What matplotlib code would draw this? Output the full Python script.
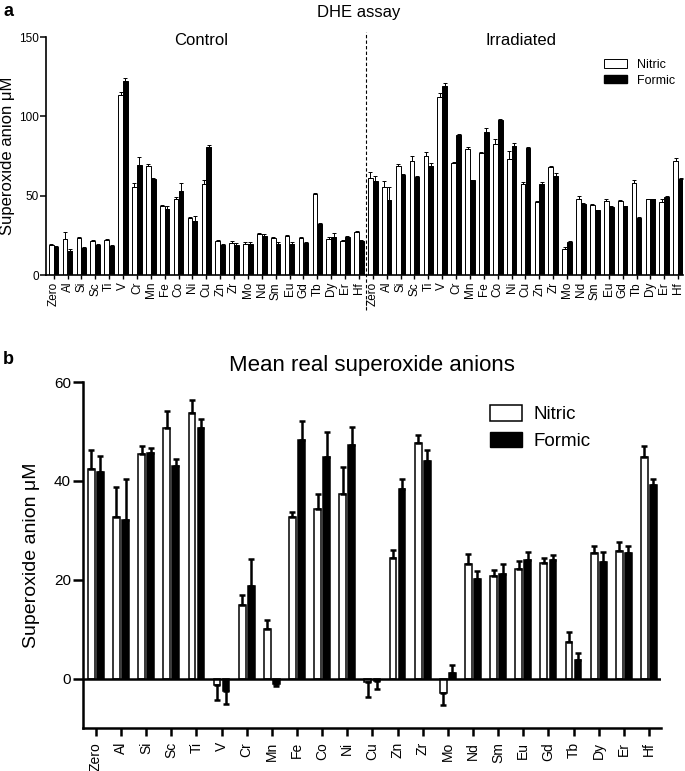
import numpy as np
import matplotlib
matplotlib.use("Agg")
import matplotlib.pyplot as plt
from matplotlib.patches import Patch

plt.rcParams["font.family"] = ["Liberation Sans", "DejaVu Sans"]

elements = ["Zero", "Al", "Si", "Sc", "Ti", "V", "Cr", "Mn", "Fe", "Co", "Ni", "Cu",
            "Zn", "Zr", "Mo", "Nd", "Sm", "Eu", "Gd", "Tb", "Dy", "Er", "Hf"]

# panel a - DHE assay (uM), mean and SEM
ctrl_nitric = [18.9, 22.4, 23.3, 21.4, 22.0, 113.7, 55.6, 69.0, 43.8, 48.2, 36.1, 57.5,
               21.6, 20.3, 19.5, 25.6, 23.3, 24.5, 23.1, 51.0, 22.4, 21.2, 27.1]
ctrl_nitric_err = [0.6, 4.5, 0.8, 0.8, 0.8, 1.5, 2.1, 0.8, 0.4, 1.1, 0.6, 2.3,
                   0.6, 1.1, 1.1, 0.8, 0.6, 0.6, 0.6, 0.6, 1.3, 0.6, 0.8]
ctrl_formic = [17.8, 15.3, 17.0, 18.9, 18.3, 122.3, 69.4, 60.8, 41.7, 52.7, 34.0, 80.8,
               18.9, 19.1, 19.5, 24.5, 19.3, 19.7, 19.9, 32.1, 23.9, 23.7, 21.6]
ctrl_formic_err = [0.4, 1.2, 0.4, 0.8, 0.4, 1.7, 5.1, 0.4, 1.5, 5.0, 3.3, 1.4,
                   0.4, 0.8, 1.1, 1.3, 1.7, 0.8, 0.6, 0.8, 2.3, 1.1, 0.6]
irr_nitric = [61.3, 55.2, 68.4, 71.7, 75.3, 112.4, 70.5, 79.3, 76.8, 82.7, 73.4, 57.1,
              45.9, 68.0, 16.4, 48.2, 44.0, 46.6, 46.6, 57.9, 47.6, 46.1, 71.7]
irr_nitric_err = [3.8, 4.2, 1.3, 3.2, 2.3, 2.5, 0.6, 1.3, 0.6, 2.7, 4.8, 1.7,
                  1.0, 0.6, 1.3, 1.7, 0.6, 1.0, 0.6, 1.9, 0.6, 1.5, 2.1]
irr_formic = [59.4, 47.4, 62.9, 61.9, 68.6, 119.4, 88.1, 59.6, 90.0, 97.8, 81.4, 80.3,
              57.5, 62.7, 20.8, 44.9, 40.7, 42.8, 43.2, 35.7, 47.6, 49.3, 60.4]
irr_formic_err = [2.9, 8.2, 0.6, 0.4, 1.7, 1.7, 0.8, 0.4, 2.7, 0.6, 1.5, 0.6,
                  1.3, 1.7, 0.8, 0.4, 0.4, 0.8, 0.4, 0.6, 0.4, 0.6, 0.8]

# panel b - mean real superoxide anions (uM)
real_nitric = [42.4, 32.7, 45.4, 50.7, 53.7, -1.2, 14.8, 10.0, 32.7, 34.3, 37.4, -0.7,
               24.4, 47.7, -2.9, 23.1, 20.7, 22.2, 23.4, 7.4, 25.4, 25.8, 44.8]
real_nitric_err = [3.9, 6.1, 1.6, 3.5, 2.7, 3.2, 2.1, 1.9, 0.9, 3.1, 5.4, 3.0,
                   1.7, 1.6, 2.4, 2.1, 1.2, 1.5, 0.9, 2.0, 1.5, 1.8, 2.3]
real_formic = [41.7, 32.1, 45.7, 43.0, 50.7, -2.6, 18.7, -1.1, 48.3, 44.8, 47.3, -0.5,
               38.4, 44.1, 1.1, 20.2, 21.2, 23.9, 23.9, 3.8, 23.5, 25.4, 39.1]
real_formic_err = [3.3, 8.3, 1.0, 1.4, 1.9, 2.5, 5.4, 0.5, 3.9, 5.0, 3.6, 1.7,
                   1.9, 2.2, 1.7, 1.5, 1.9, 1.7, 1.0, 1.4, 2.1, 1.5, 1.2]


def one_sided(vals, errs):
    # error bar points away from zero, like the original
    vals = np.asarray(vals)
    errs = np.asarray(errs)
    lower = np.where(vals < 0, errs, 0)
    upper = np.where(vals < 0, 0, errs)
    return [lower, upper]


fig = plt.figure(figsize=(6.85, 7.71), dpi=100)

# ---------- panel a ----------
W, H = 685.0, 771.0
ax1 = fig.add_axes([46 / W, 1 - 275 / H, (683 - 46) / W, (275 - 37) / H])

nitric_a = ctrl_nitric + irr_nitric
nitric_a_err = ctrl_nitric_err + irr_nitric_err
formic_a = ctrl_formic + irr_formic
formic_a_err = ctrl_formic_err + irr_formic_err
xa = np.arange(len(nitric_a))
bw = 0.34
ax1.bar(xa - 0.175, nitric_a, bw, color="white", edgecolor="black", linewidth=0.7, zorder=2)
ax1.bar(xa + 0.175, formic_a, bw, color="black", edgecolor="black", linewidth=0.7, zorder=2)
ekw = dict(fmt="none", ecolor="black", elinewidth=0.7, capsize=1.2, capthick=0.7, zorder=3)
ax1.errorbar(xa - 0.175, nitric_a, yerr=one_sided(nitric_a, nitric_a_err), **ekw)
ax1.errorbar(xa + 0.175, formic_a, yerr=one_sided(formic_a, formic_a_err), **ekw)

ax1.set_xlim(-0.55, 45.35)
ax1.set_ylim(0, 150)
ax1.set_yticks([0, 50, 100, 150])
ax1.set_xticks(xa)
ax1.set_xticklabels(elements + elements, rotation=90, fontsize=8.5)
ax1.tick_params(axis="y", labelsize=8.5, length=4, width=1.1, pad=1)
ax1.tick_params(axis="x", length=3, width=1.0, pad=2)
for s in ["top", "right"]:
    ax1.spines[s].set_visible(False)
for s in ["left", "bottom"]:
    ax1.spines[s].set_linewidth(1.2)
ax1.set_ylabel("Superoxide anion \u03bcM", fontsize=12, labelpad=3)
ax1.axvline(22.5, ymin=-0.147, ymax=1.02, color="black", linestyle=(0, (3, 2)),
            linewidth=0.8, clip_on=False)
ax1.text(10.6, 148, "Control", fontsize=12, ha="center", va="center")
ax1.text(33.7, 148, "Irradiated", fontsize=12, ha="center", va="center")
ax1.legend(handles=[Patch(facecolor="white", edgecolor="black", linewidth=0.7, label="Nitric"),
                    Patch(facecolor="black", edgecolor="black", label="Formic")],
           loc="upper left", bbox_to_anchor=(595 / W, 1 - 50 / H), bbox_transform=fig.transFigure,
           frameon=False, fontsize=9, handlelength=1.85, handleheight=0.65,
           labelspacing=0.3, handletextpad=0.8, borderpad=0.2)

fig.text(359 / W, 1 - 12 / H, "DHE assay", fontsize=12, ha="center", va="center")
fig.text(3 / W, 1 - 12 / H, "a", fontsize=13, fontweight="bold", ha="left", va="center")

# ---------- panel b ----------
ax2 = fig.add_axes([83.3 / W, 1 - 728 / H, (660.5 - 83.3) / W, (728 - 382) / H])
xb = np.arange(len(elements))
bw2 = 0.27
ax2.bar(xb - 0.18, real_nitric, bw2, color="white", edgecolor="black", linewidth=1.1, zorder=2)
ax2.bar(xb + 0.18, real_formic, bw2, color="black", edgecolor="black", linewidth=1.1, zorder=2)
ekw2 = dict(fmt="none", ecolor="black", elinewidth=1.8, capsize=2.3, capthick=1.8, zorder=3)
ax2.errorbar(xb - 0.18, real_nitric, yerr=one_sided(real_nitric, real_nitric_err), **ekw2)
ax2.errorbar(xb + 0.18, real_formic, yerr=one_sided(real_formic, real_formic_err), **ekw2)
ax2.axhline(0, color="black", linewidth=1.8, zorder=4)

ax2.set_xlim(-0.5, 22.46)
ax2.set_ylim(-10, 60)
ax2.set_yticks([0, 20, 40, 60])
ax2.set_xticks(xb)
ax2.set_xticklabels(elements, rotation=90, fontsize=10)
ax2.tick_params(axis="y", labelsize=11, length=7, width=1.8, pad=2)
ax2.tick_params(axis="x", length=6, width=1.8, pad=4)
for s in ["top", "right"]:
    ax2.spines[s].set_visible(False)
for s in ["left", "bottom"]:
    ax2.spines[s].set_linewidth(1.8)
ax2.set_ylabel("Superoxide anion \u03bcM", fontsize=14, labelpad=10)
ax2.legend(handles=[Patch(facecolor="white", edgecolor="black", linewidth=1.1, label="Nitric"),
                    Patch(facecolor="black", edgecolor="black", label="Formic")],
           loc="upper left", bbox_to_anchor=(477 / W, 1 - 392 / H), bbox_transform=fig.transFigure,
           frameon=False, fontsize=13.5, handlelength=1.7, handleheight=0.9,
           labelspacing=0.45, handletextpad=0.6, borderpad=0.2)

fig.text(372 / W, 1 - 365 / H, "Mean real superoxide anions", fontsize=16, ha="center", va="center")
fig.text(3 / W, 1 - 360 / H, "b", fontsize=13, fontweight="bold", ha="left", va="center")

fig.savefig("out.png", dpi=100)
